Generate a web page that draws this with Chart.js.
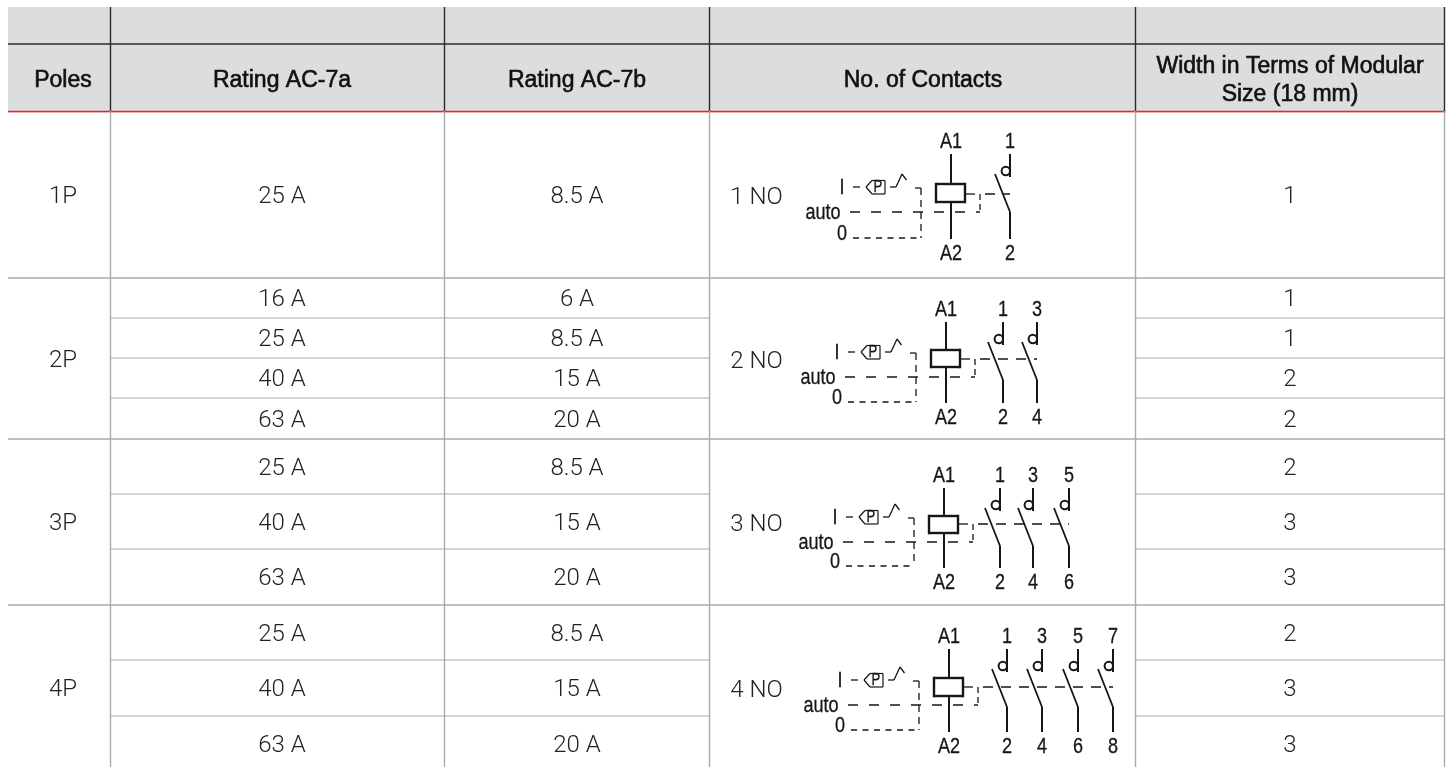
<!DOCTYPE html>
<html>
<head>
<meta charset="utf-8">
<style>
  html, body { margin: 0; padding: 0; background: #fff; overflow: hidden; }
  #wrap { width: 1453px; height: 767px; }
</style>
</head>
<body>
<div id="wrap"><canvas id="tableChart"></canvas></div>
<script src="https://cdn.jsdelivr.net/npm/chart.js@4"></script>
<script>
const headers = ['Poles', 'Rating AC-7a', 'Rating AC-7b', 'No. of Contacts', 'Width in Terms of Modular|Size (18 mm)'];
const poles = ['1P', '2P', '3P', '4P'];
const polesSpan = [1, 4, 3, 3];
const ratingA = ['25 A', '16 A', '25 A', '40 A', '63 A', '25 A', '40 A', '63 A', '25 A', '40 A', '63 A'];
const ratingB = ['8.5 A', '6 A', '8.5 A', '15 A', '20 A', '8.5 A', '15 A', '20 A', '8.5 A', '15 A', '20 A'];
const contacts = ['1 NO', '2 NO', '3 NO', '4 NO'];
const modularWidth = ['1', '1', '1', '2', '2', '2', '3', '3', '2', '3', '3'];

// table layout, in scale units (1 unit = 1 px)
const colEdges = [8, 110.5, 444.5, 709.5, 1135.5, 1444.5];
const colCenters = [63, 282, 577, 923, 1290];
const headEdges = [7, 44, 111];
const rowEdges = [111, 278, 318, 358, 398, 439, 494, 549, 605, 660, 716, 771];

// where each schematic sits: coil line x, top of A1 line, bottom of A2 line, dashed levels
const symbols = [
  { x: 951, top: 154, bot: 239, coil: [184, 202], link: 194, auto: 212, zero: 238, poles: [1010] },
  { x: 946, top: 322, bot: 403, coil: [350, 367], link: 359, auto: 377, zero: 402, poles: [1003, 1037] },
  { x: 944, top: 488, bot: 568, coil: [516, 533], link: 524, auto: 542, zero: 566, poles: [1000, 1033, 1069] },
  { x: 949, top: 649, bot: 732, coil: [678, 696], link: 687, auto: 705, zero: 730, poles: [1007, 1042, 1078, 1113] }
];

const DARK = '#2a2b2e', GREY = '#a9aaac', RED = '#e2262d', HEAD = '#dcddde', INK = '#161616';
const BODY_FONT = '300 24px Roboto, "Liberation Sans", sans-serif';
const HEAD_FONT = '23px "Liberation Sans", sans-serif';
const SYM_FONT = '22px "Liberation Sans", sans-serif';
const BOX_FONT = '16px "Liberation Sans", sans-serif';

function seg(x1, y1, x2, y2, color, width) {
  return {
    data: [{ x: x1, y: y1 }, { x: x2, y: y2 }],
    showLine: true, pointRadius: 0, borderColor: color, borderWidth: width, fill: false
  };
}

const datasets = [];
const tableBottom = rowEdges[rowEdges.length - 1];
// verticals
colEdges.slice(1).forEach((x) => {
  datasets.push(seg(x, headEdges[0], x, headEdges[2], DARK, 1.4));
  datasets.push(seg(x, headEdges[2], x, tableBottom, GREY, 1.4));
});
// header rules
datasets.push(seg(colEdges[0], headEdges[1], colEdges[5], headEdges[1], DARK, 1.3));
datasets.push(seg(colEdges[0], headEdges[2] + 1.5, colEdges[5] + 1, headEdges[2] + 1.5, '#f3b0b0', 1));
datasets.push(seg(colEdges[0], headEdges[2] + 0.5, colEdges[5] + 1, headEdges[2] + 0.5, RED, 1.3));
// body rules, merged cells skip the poles and contacts columns
let groupEnd = [];
let r = 0;
polesSpan.forEach((n) => { r += n; groupEnd.push(r); });
rowEdges.slice(1, -1).forEach((y, i) => {
  if (groupEnd.includes(i + 1)) {
    datasets.push(seg(colEdges[0], y, colEdges[5], y, GREY, 1.6));
  } else {
    datasets.push(seg(colEdges[1], y, colEdges[3], y, GREY, 1.2));
    datasets.push(seg(colEdges[4], y, colEdges[5], y, GREY, 1.2));
  }
});

function addSymbol(s) {
  const c = INK;
  // coil and its terminals
  datasets.push(seg(s.x, s.top, s.x, s.coil[0], c, 2));
  datasets.push(seg(s.x, s.coil[1], s.x, s.bot, c, 2));
  datasets.push(seg(s.x - 15, s.coil[0], s.x + 14, s.coil[0], c, 2.4));
  datasets.push(seg(s.x - 15, s.coil[1], s.x + 14, s.coil[1], c, 2.4));
  datasets.push(seg(s.x - 15, s.coil[0] - 1.2, s.x - 15, s.coil[1] + 1.2, c, 2.4));
  datasets.push(seg(s.x + 14, s.coil[0] - 1.2, s.x + 14, s.coil[1] + 1.2, c, 2.4));
  // contacts
  s.poles.forEach((p) => {
    datasets.push(seg(p, s.top, p, s.top + 23, c, 2));
    datasets.push(seg(p - 15, s.top + 20, p, s.top + 58, c, 1.8));
    datasets.push(seg(p, s.top + 58, p, s.bot, c, 2));
  });
  // dashed control lines
  const d = (x1, y1, x2, y2, dash) => {
    const ds = seg(x1, y1, x2, y2, c, 1.3);
    ds.borderDash = dash;
    datasets.push(ds);
  };
  const last = s.poles[s.poles.length - 1];
  d(s.x + 14, s.link, s.x + 24, s.link, []);
  d(s.x + 29, s.link, s.x + 29, s.auto, [6, 4]);
  d(s.x + 34, s.link, last, s.link, [10, 8]);
  d(s.x - 101, s.auto, s.x + 29, s.auto, [10, 11]);
  d(s.x - 30, s.link - 6, s.x - 30, s.zero, [7, 5]);
  d(s.x - 98, s.zero, s.x - 30, s.zero, [6, 5.5]);
  d(s.x - 36, s.link - 6, s.x - 30, s.link - 6, []);
  // I - [P] - switch
  const iy = s.link - 7;
  d(s.x - 98, iy, s.x - 91, iy, []);
  const p = [[-85, 0], [-79, -6.5], [-66, -6.5], [-66, 7], [-79, 7], [-85, 0]];
  p.slice(1).forEach((q, i) => {
    datasets.push(seg(s.x + p[i][0], iy + p[i][1], s.x + q[0], iy + q[1], c, 1.2));
  });
  datasets.push(seg(s.x - 61, iy, s.x - 55, iy, c, 1.3));
  datasets.push(seg(s.x - 55, iy, s.x - 49, iy - 13, c, 1.3));
  datasets.push(seg(s.x - 49, iy - 13, s.x - 44.5, iy - 7, c, 1.3));
}
symbols.forEach(addSymbol);

const tablePlugin = {
  id: 'tablePlugin',
  beforeDatasetsDraw(chart) {
    const { ctx, scales: { x, y } } = chart;
    ctx.save();
    ctx.fillStyle = HEAD;
    ctx.fillRect(x.getPixelForValue(colEdges[0]), y.getPixelForValue(headEdges[0]),
      x.getPixelForValue(colEdges[5]) - x.getPixelForValue(colEdges[0]),
      y.getPixelForValue(headEdges[2]) - y.getPixelForValue(headEdges[0]));
    ctx.restore();
  },
  afterDatasetsDraw(chart) {
    const { ctx, scales: { x, y } } = chart;
    ctx.save();
    ctx.textAlign = 'center';
    ctx.textBaseline = 'middle';
    const put = (t, cx, cy) => ctx.fillText(t, x.getPixelForValue(cx), y.getPixelForValue(cy));
    // the labels in the schematics are a condensed face
    const narrow = (t, cx, cy) => {
      ctx.save();
      ctx.translate(x.getPixelForValue(cx), y.getPixelForValue(cy));
      ctx.scale(0.82, 1);
      ctx.lineWidth = 0.3;
      ctx.strokeStyle = INK;
      ctx.fillText(t, 0, 0);
      ctx.strokeText(t, 0, 0);
      ctx.restore();
    };

    // header
    ctx.fillStyle = '#111';
    ctx.strokeStyle = '#111';
    ctx.lineWidth = 0.6;
    ctx.font = HEAD_FONT;
    headers.forEach((h, i) => {
      const lines = h.split('|');
      lines.forEach((l, j) => {
        const cy = 81 + (j - (lines.length - 1) / 2) * 28;
        put(l, colCenters[i], cy);
        ctx.strokeText(l, x.getPixelForValue(colCenters[i]), y.getPixelForValue(cy));
      });
    });

    // body
    ctx.fillStyle = '#222';
    ctx.font = BODY_FONT;
    ratingA.forEach((v, i) => {
      const cy = (rowEdges[i] + rowEdges[i + 1]) / 2 + 2;
      put(v, colCenters[1], cy);
      put(ratingB[i], colCenters[2], cy);
      put(modularWidth[i], colCenters[4], cy);
    });
    let start = 0;
    poles.forEach((p, i) => {
      const end = start + polesSpan[i];
      const cy = (rowEdges[start] + rowEdges[end]) / 2;
      put(p, colCenters[0], cy + 2);
      put(contacts[i], 756.5, cy + 3);
      start = end;
    });

    // schematic labels
    ctx.fillStyle = INK;
    symbols.forEach((s) => {
      ctx.font = SYM_FONT;
      narrow('A1', s.x, s.top - 12);
      narrow('A2', s.x, s.bot + 15);
      s.poles.forEach((p, i) => {
        narrow(String(i * 2 + 1), p, s.top - 12);
        narrow(String(i * 2 + 2), p, s.bot + 15);
        // hook on the contact
        ctx.beginPath();
        ctx.lineWidth = 2;
        ctx.strokeStyle = INK;
        ctx.arc(x.getPixelForValue(p - 4.2), y.getPixelForValue(s.top + 17), 4.2, 0, Math.PI * 2);
        ctx.stroke();
      });
      narrow('I', s.x - 109, s.link - 6);
      narrow('auto', s.x - 128, s.auto + 1);
      narrow('0', s.x - 109, s.zero - 4);
      ctx.font = BOX_FONT;
      narrow('P', s.x - 73, s.link - 6);
    });
    ctx.restore();
  }
};

new Chart(document.getElementById('tableChart').getContext('2d'), {
  type: 'scatter',
  data: { datasets: datasets },
  plugins: [tablePlugin],
  options: {
    responsive: true,
    maintainAspectRatio: false,
    animation: false,
    layout: { padding: 0 },
    plugins: { legend: { display: false }, tooltip: { enabled: false } },
    scales: {
      x: { type: 'linear', min: 0, max: 1453, display: false },
      y: { type: 'linear', min: 0, max: 767, reverse: true, display: false }
    }
  }
});
</script>
</body>
</html>
